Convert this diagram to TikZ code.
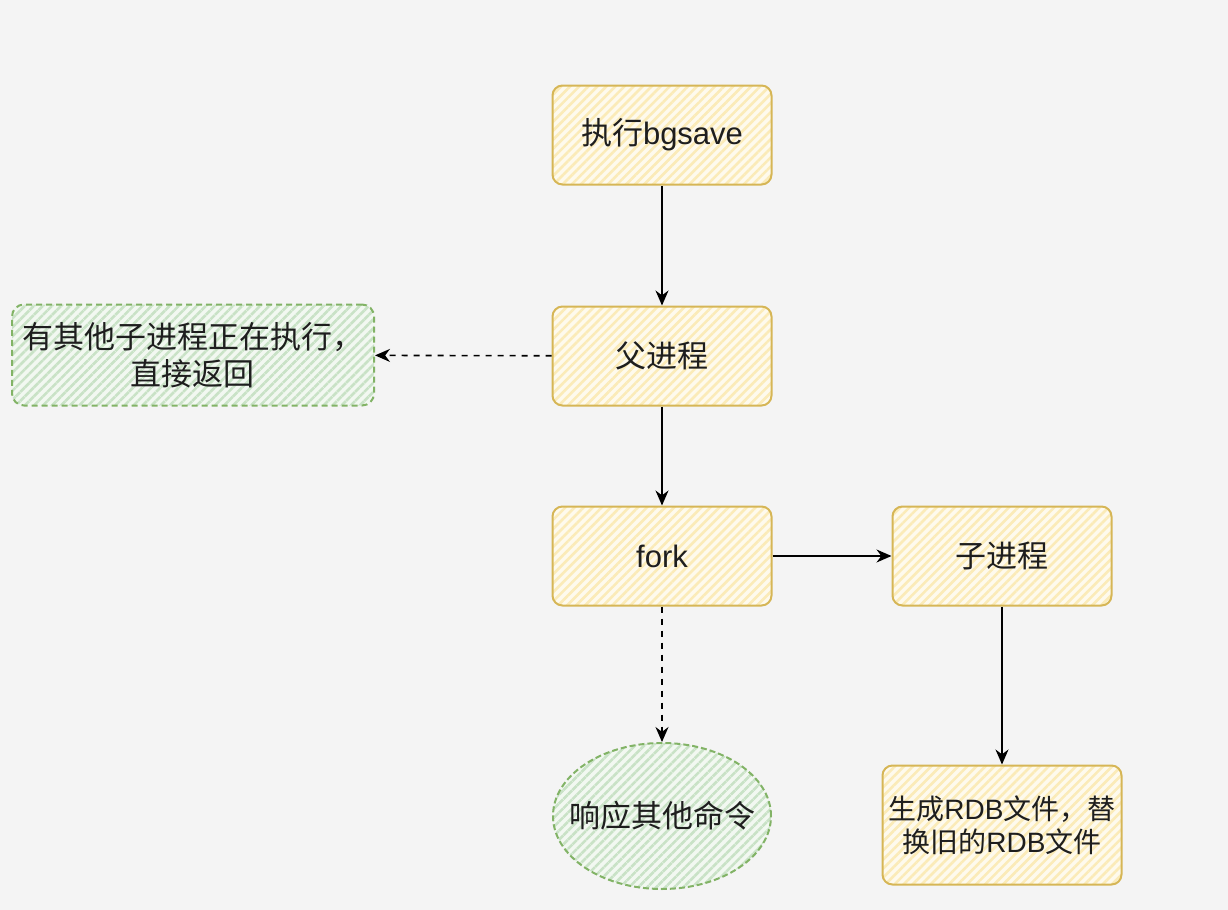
\documentclass[tikz,border=0pt]{standalone}
\usepackage{fontspec}
\setmainfont{Liberation Sans}
\newfontfamily\cjk{Noto Sans CJK SC}
\usetikzlibrary{arrows.meta,shapes.geometric,patterns.meta,positioning}
\definecolor{bgGray}{HTML}{F4F4F4}
\definecolor{ylFill}{HTML}{FBEBB8}
\definecolor{ylLine}{HTML}{D6B656}
\definecolor{grFill}{HTML}{C9E2C6}
\definecolor{grLine}{HTML}{82B366}
\definecolor{inkTxt}{HTML}{1E1E1E}
\tikzset{
 flowchart/.style={x=.5pt,y=-.5pt,text=inkTxt,font=\fontsize{15.5}{18}\selectfont},
 cjktext/.style={font=\cjk\fontsize{15.5}{18.5}\selectfont},
 hatchY/.style={preaction={fill=ylFill!25!white},
   pattern={Lines[angle=45,distance=3.2pt,line width=1.3pt]},pattern color=ylFill},
 hatchG/.style={preaction={fill=grFill!25!white},
   pattern={Lines[angle=45,distance=3.2pt,line width=1.3pt]},pattern color=grFill},
 stepbox/.style={rectangle,rounded corners=5pt,draw=ylLine,line width=1pt,hatchY,
   minimum width=109.5pt,minimum height=49.5pt,align=center,inner sep=2pt},
 skipbox/.style={rectangle,rounded corners=6pt,draw=grLine,line width=1pt,hatchG,
   dash pattern=on 3pt off 2pt,minimum width=181pt,minimum height=50.5pt,
   align=center,inner sep=2pt,cjktext},
 replyell/.style={ellipse,draw=grLine,line width=1pt,hatchG,dash pattern=on 3pt off 1.5pt,
   minimum width=109pt,minimum height=73pt,inner sep=0pt},
 link/.style={draw=black,line width=.8pt,-{Stealth[length=7.5pt,width=6.5pt]}},
 optlink/.style={link,dash pattern=on 3pt off 3pt}
}

\begin{document}
\begin{tikzpicture}[flowchart]
 \useasboundingbox[fill=bgGray] (0,0) rectangle (1228,910);
 \node[stepbox] (exec) at (662,135) {{\cjk 执行}bgsave};
 \node[stepbox,cjktext] (parent) at (662,356) {父进程};
 \node[stepbox] (fork) at (662,556) {fork};
 \node[stepbox,cjktext] (child) at (1002,556) {子进程};
 \node[skipbox] (busy) at (193,355) {有其他子进程正在执行，\\直接返回};
 \node[replyell,label={[cjktext]center:响应其他命令}] (reply) at (662,816) {};
 \node[stepbox,minimum width=119.5pt,minimum height=59.5pt,
   font=\fontsize{14}{16.5}\selectfont] (rdb) at (1002,825)
   {{\cjk 生成}RDB{\cjk 文件，替}\\{\cjk 换旧的}RDB{\cjk 文件}};
 \draw[link] (exec) -- (parent);
 \draw[optlink] (parent) -- (busy);
 \draw[link] (parent) -- (fork);
 \draw[link] (fork) -- (child);
 \draw[optlink] (fork) -- (reply);
 \draw[link] (child) -- (rdb);
\end{tikzpicture}
\end{document}
